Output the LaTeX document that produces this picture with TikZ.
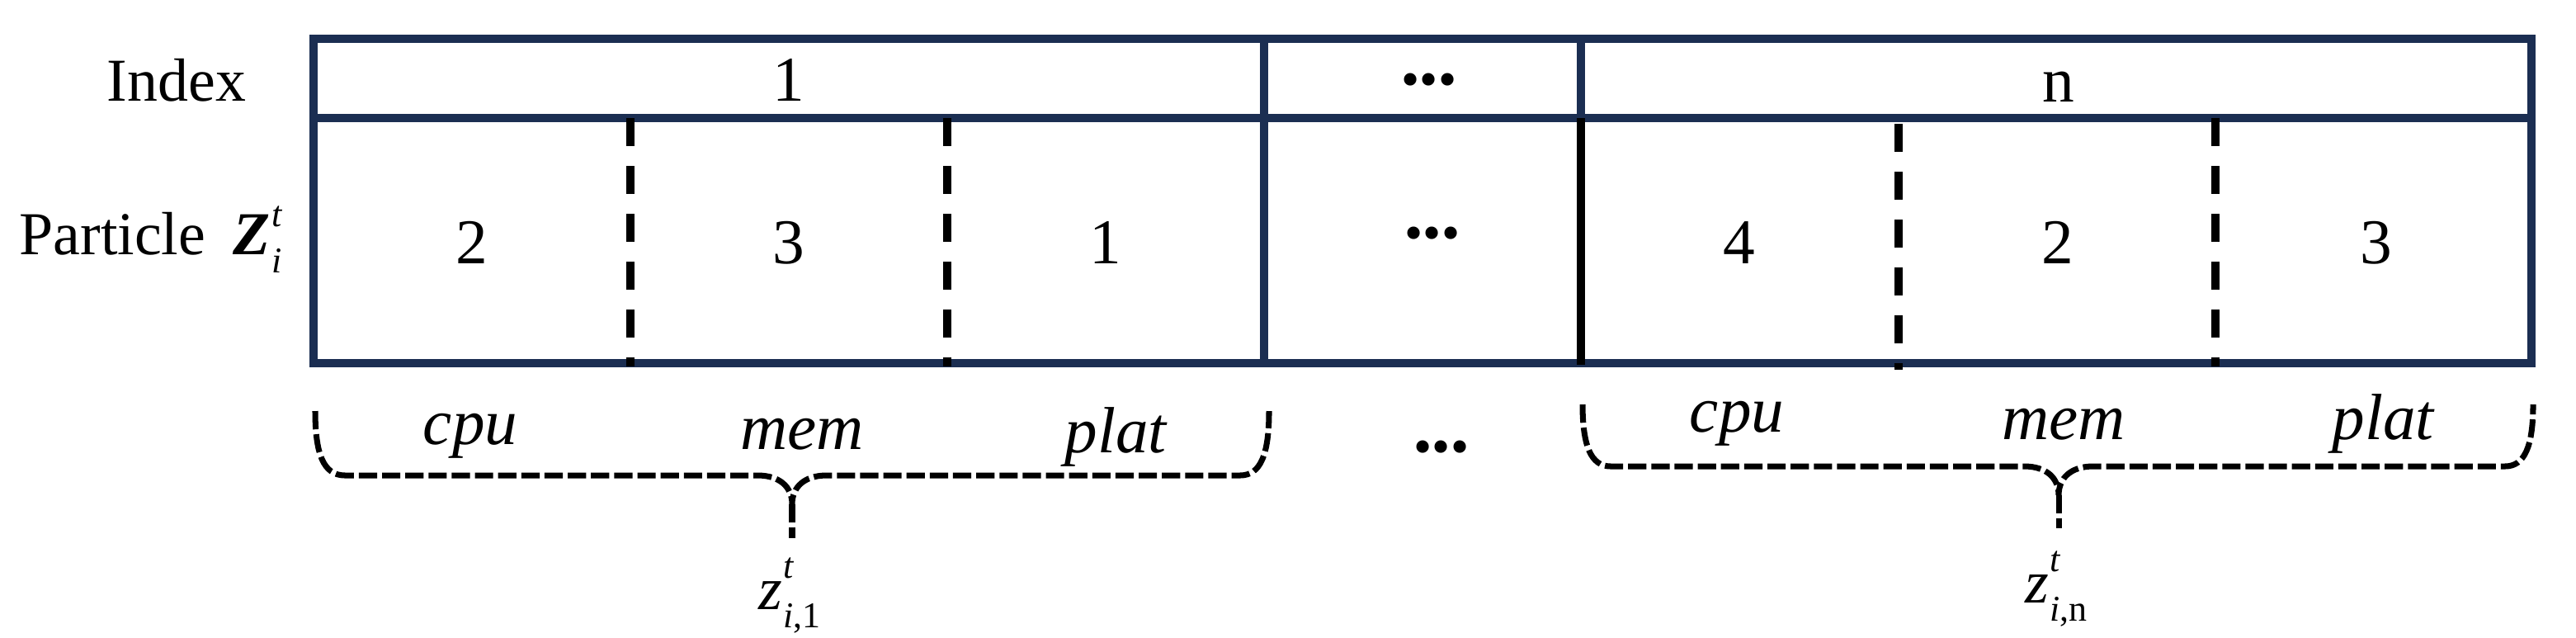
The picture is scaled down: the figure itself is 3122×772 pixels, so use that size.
\documentclass[tikz,border=0pt]{standalone}
\usepackage{fontspec}
\setmainfont{Liberation Serif}
\definecolor{navy}{RGB}{27,46,82}
\newcommand{\mysupsub}[4][10pt]{#2\kern0.5pt\rlap{\raisebox{#1}{\fontsize{12.5}{13}\selectfont #3}}\raisebox{-6.3pt}{\fontsize{12.5}{13}\selectfont #4}}
\tikzset{
  frameline/.style={draw=navy, line width=2.6pt},
  sepline/.style={draw=black, line width=2.6pt, dash pattern=on 9.7pt off 6.8pt},
  sepsolid/.style={draw=black, line width=2.6pt},
  braceline/.style={draw=black, line width=2pt, dash pattern=on 6.3pt off 1.7pt},
  rowlbl/.style={font=\fontsize{21}{25}\selectfont, inner sep=0pt},
  numlbl/.style={font=\fontsize{22}{26}\selectfont, inner sep=0pt, anchor=base},
  itlbl/.style={font=\fontsize{22.5}{26}\selectfont\itshape, inner sep=0pt, anchor=base},
  dotlbl/.style={font=\fontsize{18}{20}\selectfont, inner sep=0pt},
  zlbl/.style={font=\fontsize{21}{25}\selectfont, inner sep=0pt, anchor=base},
}
\begin{document}
\begin{tikzpicture}[x=0.01cm, y=-0.01cm]
\useasboundingbox (0,0) rectangle (3122,772);
% table frame
\draw[frameline] (380,47) rectangle (3068,440);
\draw[frameline] (380,143) -- (3068,143);
\draw[frameline] (1532,47) -- (1532,440);
\draw[frameline] (1916,47) -- (1916,143);
\draw[sepsolid] (1916,143) -- (1916,442);
\draw[sepline] (764,143) -- (764,444);
\draw[sepline] (1148,143) -- (1148,444);
\draw[sepline] (2301,150) -- (2301,448);
\draw[sepline] (2685,143) -- (2685,444);
% row labels
\node[rowlbl, anchor=base] (idx) at (214,122) {Index};
\node[rowlbl, anchor=base west] (part) at (23,308) {Particle\hspace{0.45em}\mysupsub[9.4pt]{\textbf{\textit{Z}}}{\textit{t}}{\textit{i}}};
% index row
\node[numlbl] (i1) at (956,122) {1};
\node[dotlbl] (idots) at (1732,103) {•••};
\node[numlbl] (in) at (2495,123) {n};
% particle row
\node[numlbl] (p1) at (572,319) {2};
\node[numlbl] (p2) at (956,319) {3};
\node[numlbl] (p3) at (1340,319) {1};
\node[dotlbl] (pdots) at (1736,289) {•••};
\node[numlbl] (p4) at (2108,319) {4};
\node[numlbl] (p5) at (2494,319) {2};
\node[numlbl] (p6) at (2880,319) {3};
% labels under table
\node[itlbl] (c1) at (570,538) {cpu};
\node[itlbl] (m1) at (972,544) {mem};
\node[itlbl] (l1) at (1352,548) {plat};
\node[dotlbl] (bdots) at (1747,548) {•••};
\node[itlbl] (c2) at (2105,523) {cpu};
\node[itlbl] (m2) at (2501,532) {mem};
\node[itlbl] (l2) at (2888,532) {plat};
% braces
\draw[braceline] (382,498) .. controls (382,550) and (392,576) .. (418,576)
  -- (918,576) .. controls (945,576) and (960,590) .. (960,611)
  .. controls (960,590) and (975,576) .. (1002,576)
  -- (1503,576) .. controls (1528,576) and (1538,550) .. (1538,498);
\draw[braceline] (960,611) -- (960,652);
\draw[braceline] (1918,490) .. controls (1918,540) and (1928,565) .. (1952,565)
  -- (2453,565) .. controls (2480,565) and (2495,579) .. (2495,600)
  .. controls (2495,579) and (2510,565) .. (2537,565)
  -- (3036,565) .. controls (3060,565) and (3070,540) .. (3070,490);
\draw[braceline] (2495,600) -- (2495,640);
\node[zlbl] (z1) at (957,738) {\mysupsub[10.8pt]{\textit{z}}{\textit{t}}{\textit{i},1}};
\node[zlbl] (zn) at (2492,730) {\mysupsub[10.8pt]{\textit{z}}{\textit{t}}{\textit{i},n}};
\end{tikzpicture}
\end{document}
